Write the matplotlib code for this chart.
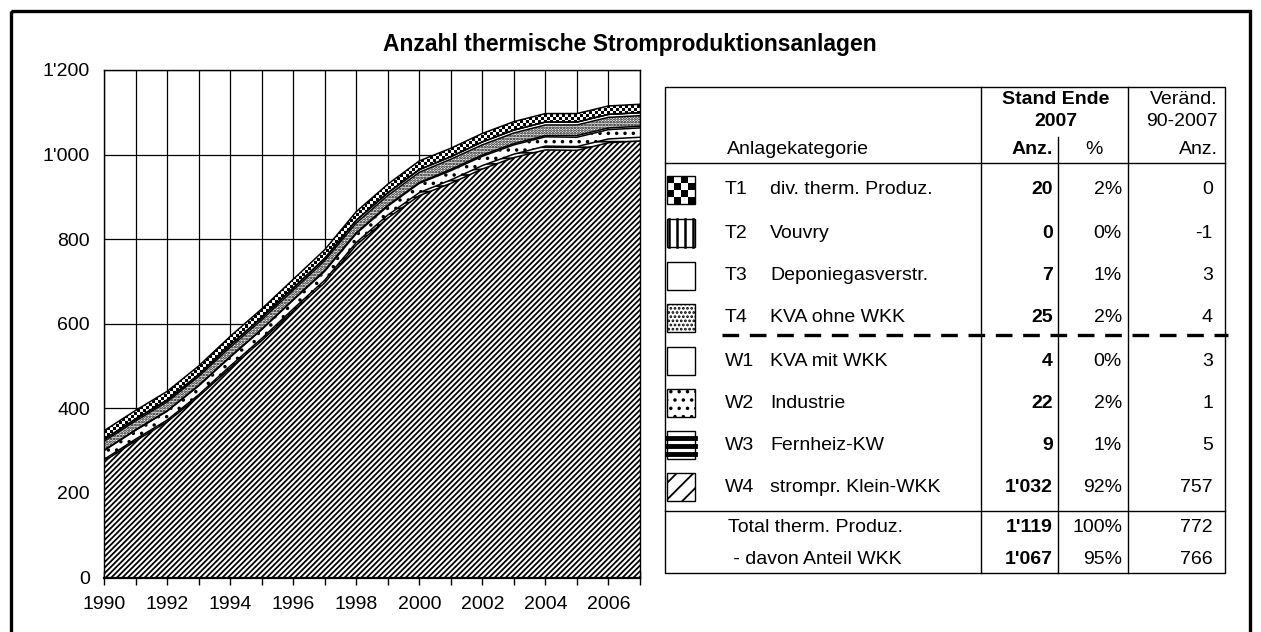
import numpy as np
import matplotlib
matplotlib.use("Agg")
import matplotlib.pyplot as plt
from matplotlib.patches import Rectangle
from matplotlib.ticker import FuncFormatter, MultipleLocator

plt.rcParams["font.family"] = ["Liberation Sans", "DejaVu Sans"]
plt.rcParams["hatch.linewidth"] = 1.3

# --- Data (Anzahl Anlagen pro Jahr, Stapel von unten nach oben) ---
YEARS = list(range(1990, 2008))
W4_KLEIN_WKK = [275, 323, 368, 428, 495, 560, 630, 697, 786, 850, 903, 932, 966, 993, 1011, 1010, 1028, 1032]
W3_FERNHEIZ = [4, 4, 4, 4, 5, 5, 5, 6, 6, 7, 7, 8, 8, 8, 9, 9, 9, 9]
W2_INDUSTRIE = [21, 21, 21, 21, 21, 21, 21, 21, 21, 21, 22, 22, 22, 22, 22, 22, 22, 22]
W1_KVA_MIT = [1, 1, 1, 1, 1, 1, 1, 2, 2, 2, 2, 3, 3, 3, 3, 4, 4, 4]
T4_KVA_OHNE = [21, 21, 21, 21, 22, 22, 22, 23, 23, 23, 24, 24, 24, 25, 25, 25, 25, 25]
T3_DEPONIEGAS = [4, 4, 4, 4, 5, 5, 5, 5, 6, 6, 6, 6, 7, 7, 7, 7, 7, 7]
T2_VOUVRY = [1, 1, 1, 1, 1, 1, 1, 1, 1, 1, 1, 0, 0, 0, 0, 0, 0, 0]
T1_DIV = [20, 20, 20, 20, 20, 20, 20, 20, 20, 20, 20, 20, 20, 20, 20, 20, 20, 20]

# --- Tabelle ---
CODES = ["T1", "T2", "T3", "T4", "W1", "W2", "W3", "W4"]
NAMES = ["div. therm. Produz.", "Vouvry", "Deponiegasverstr.", "KVA ohne WKK",
         "KVA mit WKK", "Industrie", "Fernheiz-KW", "strompr. Klein-WKK"]
ANZ_2007 = [20, 0, 7, 25, 4, 22, 9, 1032]
PCT_2007 = [2, 0, 1, 2, 0, 2, 1, 92]
CHANGE_90_07 = [0, -1, 3, 4, 3, 1, 5, 757]
TOTAL_LABELS = ["Total therm. Produz.", " - davon Anteil WKK"]
TOTAL_ANZ = [1119, 1067]
TOTAL_PCT = [100, 95]
TOTAL_CHANGE = [772, 766]

TITLE = "Anzahl thermische Stromproduktionsanlagen"
W, H = 1261, 632


def swiss(v):
    return f"{int(v):,}".replace(",", "'")


fig = plt.figure(figsize=(W / 100, H / 100), dpi=100)

# --- Chart ---
ax = fig.add_axes([104 / W, (H - 577.5) / H, 536 / W, 507.5 / H])
series = [W4_KLEIN_WKK, W3_FERNHEIZ, W2_INDUSTRIE, W1_KVA_MIT,
          T4_KVA_OHNE, T3_DEPONIEGAS, T2_VOUVRY, T1_DIV]
styles = [("white", "//////"), ("white", "---"), ("white", ".."), ("white", None),
          ("white", "......"), ("white", None), ("white", "||"), ("black", None)]
polys = ax.stackplot(YEARS, *series, zorder=2)
for poly, (fc, hatch) in zip(polys, styles):
    poly.set_facecolor(fc)
    poly.set_edgecolor("black")
    poly.set_linewidth(0)
    if hatch:
        poly.set_hatch(hatch)

# checker texture for T1, clipped to its area
checker = np.add.outer(np.arange(169), np.arange(179)) % 2
im = ax.imshow(checker, cmap="gray", extent=(1990, 2007, 0, 1200), aspect="auto",
               interpolation="nearest", zorder=2.5)
im.set_clip_path(polys[-1].get_paths()[0], ax.transData)

cum = np.cumsum(np.array(series), axis=0)
for row in cum:
    ax.plot(YEARS, row, color="black", lw=1.1, zorder=3)

ax.set_xlim(1990, 2007)
ax.set_ylim(0, 1200)
ax.yaxis.set_major_locator(MultipleLocator(200))
ax.yaxis.set_major_formatter(FuncFormatter(lambda v, p: swiss(v)))
ax.xaxis.set_major_locator(MultipleLocator(2))
ax.xaxis.set_minor_locator(MultipleLocator(1))
ax.grid(True, axis="y", color="black", lw=0.9)
ax.grid(True, axis="x", which="both", color="black", lw=0.9)
ax.set_axisbelow(True)
ax.tick_params(axis="y", length=0, pad=10, labelsize=14)
ax.tick_params(axis="x", which="both", direction="inout", length=10, width=1, pad=8, labelsize=14)
for s in ax.spines.values():
    s.set_color("black")
    s.set_linewidth(1)
ax.spines["bottom"].set_linewidth(1.6)

# --- Overlay in pixel coordinates for title, table, frame ---
ov = fig.add_axes([0, 0, 1, 1], zorder=5)
ov.set_xlim(0, W)
ov.set_ylim(H, 0)
ov.axis("off")
ov.patch.set_visible(False)

ov.add_patch(Rectangle((11, 11), W - 22, H + 20, fill=False, lw=2.4,
                       edgecolor="black", clip_on=False))
ov.text(630, 44, TITLE, ha="center", va="center", fontsize=16.5, fontweight="bold")

fs = 14
L, R, TOP, BOT = 665, 1225, 87, 573
ov.add_patch(Rectangle((L, TOP), R - L, BOT - TOP, fill=False, lw=1, edgecolor="black"))
ov.plot([L, R], [163, 163], color="black", lw=1)
ov.plot([L, R], [511, 511], color="black", lw=1)
ov.plot([981, 981], [TOP, BOT], color="black", lw=1)
ov.plot([1128, 1128], [TOP, BOT], color="black", lw=1)
ov.plot([1058, 1058], [137, BOT], color="black", lw=1)
ov.plot([722, 1228], [335, 335], color="black", lw=2.4, dashes=(5, 3.2))

ov.text(1056, 99, "Stand Ende", ha="center", va="center", fontsize=fs, fontweight="bold")
ov.text(1056, 121, "2007", ha="center", va="center", fontsize=fs, fontweight="bold")
ov.text(727, 150, "Anlagekategorie", ha="left", va="center", fontsize=fs)
ov.text(1053, 150, "Anz.", ha="right", va="center", fontsize=fs, fontweight="bold")
ov.text(1094, 150, "%", ha="center", va="center", fontsize=fs)
ov.text(1218, 99, "Veränd.", ha="right", va="center", fontsize=fs)
ov.text(1218, 121, "90-2007", ha="right", va="center", fontsize=fs)
ov.text(1218, 150, "Anz.", ha="right", va="center", fontsize=fs)

row_y = [190, 233, 276, 318, 361, 403, 445, 487]
for y, code, name, anz, pct, ch in zip(row_y, CODES, NAMES, ANZ_2007, PCT_2007, CHANGE_90_07):
    ov.text(725, y, code, ha="left", va="center", fontsize=fs)
    ov.text(770, y, name, ha="left", va="center", fontsize=fs)
    ov.text(1053, y, swiss(anz), ha="right", va="center", fontsize=fs, fontweight="bold")
    ov.text(1122, y, f"{pct}%", ha="right", va="center", fontsize=fs)
    ov.text(1213, y, str(ch), ha="right", va="center", fontsize=fs)

for y, lab, anz, pct, ch in zip([527, 559], TOTAL_LABELS, TOTAL_ANZ, TOTAL_PCT, TOTAL_CHANGE):
    ov.text(728, y, lab, ha="left", va="center", fontsize=fs)
    ov.text(1053, y, swiss(anz), ha="right", va="center", fontsize=fs, fontweight="bold")
    ov.text(1122, y, f"{pct}%", ha="right", va="center", fontsize=fs)
    ov.text(1213, y, swiss(ch), ha="right", va="center", fontsize=fs)

# legend icons
ix, iw = 667, 28
icon_hatch = {"T3": None, "T4": "....", "W1": None, "W2": "..", "W4": "//"}
for y, code in zip(row_y, CODES):
    top = y - 14
    if code == "T1":
        ov.imshow(np.add.outer(np.arange(4), np.arange(4)) % 2, cmap="gray",
                  extent=(ix, ix + iw, top + iw, top), aspect="auto",
                  interpolation="nearest", zorder=3)
        ov.add_patch(Rectangle((ix, top), iw, iw, fill=False, lw=1, edgecolor="black", zorder=4))
    elif code == "T2":
        ov.add_patch(Rectangle((ix, top), iw, iw, facecolor="white", lw=1, edgecolor="black"))
        for dx in (2, 10, 18, 26):
            ov.plot([ix + dx, ix + dx], [top, top + iw], color="black", lw=1.8)
    elif code == "W3":
        ov.add_patch(Rectangle((ix, top), iw, iw, facecolor="white", lw=1, edgecolor="black"))
        for dy in (7, 15, 23):
            ov.plot([ix, ix + iw], [top + dy, top + dy], color="black", lw=3.5)
    else:
        ov.add_patch(Rectangle((ix, top), iw, iw, facecolor="white", lw=1,
                               edgecolor="black", hatch=icon_hatch[code]))

ov.set_xlim(0, W)
ov.set_ylim(H, 0)

fig.savefig("out.png", dpi=100)
